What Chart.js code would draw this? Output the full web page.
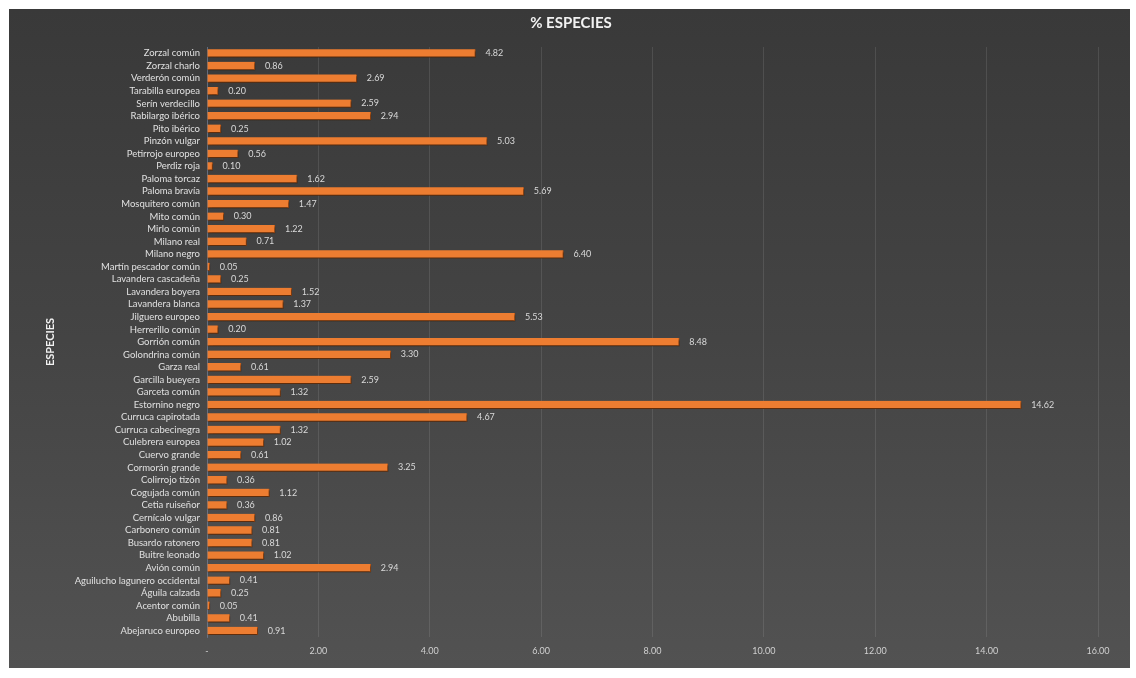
<!DOCTYPE html>
<html>
<head>
<meta charset="utf-8">
<script src="https://cdn.jsdelivr.net/npm/chart.js@4.4.1/dist/chart.umd.min.js"></script>
<style>
  html, body { margin: 0; padding: 0; background: #ffffff; }
  .chart-box {
    position: absolute;
    left: 9px; top: 9px;
    width: 1121px; height: 659px;
    background: linear-gradient(180deg, #393939 0%, #444444 50%, #525252 100%);
  }
</style>
</head>
<body>
<div class="chart-box"><canvas id="speciesChart"></canvas></div>
<script>
const species = [
  "Zorzal común", "Zorzal charlo", "Verderón común", "Tarabilla europea", "Serín verdecillo",
  "Rabilargo ibérico", "Pito ibérico", "Pinzón vulgar", "Petirrojo europeo", "Perdiz roja",
  "Paloma torcaz", "Paloma bravía", "Mosquitero común", "Mito común", "Mirlo común",
  "Milano real", "Milano negro", "Martín pescador común", "Lavandera cascadeña", "Lavandera boyera",
  "Lavandera blanca", "Jilguero europeo", "Herrerillo común", "Gorrión común", "Golondrina común",
  "Garza real", "Garcilla bueyera", "Garceta común", "Estornino negro", "Curruca capirotada",
  "Curruca cabecinegra", "Culebrera europea", "Cuervo grande", "Cormorán grande", "Colirrojo tizón",
  "Cogujada común", "Cetia ruiseñor", "Cernícalo vulgar", "Carbonero común", "Busardo ratonero",
  "Buitre leonado", "Avión común", "Aguilucho lagunero occidental", "Águila calzada", "Acentor común",
  "Abubilla", "Abejaruco europeo"
];

const percentages = [
  4.82, 0.86, 2.69, 0.20, 2.59,
  2.94, 0.25, 5.03, 0.56, 0.10,
  1.62, 5.69, 1.47, 0.30, 1.22,
  0.71, 6.40, 0.05, 0.25, 1.52,
  1.37, 5.53, 0.20, 8.48, 3.30,
  0.61, 2.59, 1.32, 14.62, 4.67,
  1.32, 1.02, 0.61, 3.25, 0.36,
  1.12, 0.36, 0.86, 0.81, 0.81,
  1.02, 2.94, 0.41, 0.25, 0.05,
  0.41, 0.91
];

const xTicks = [0, 2, 4, 6, 8, 10, 12, 14, 16];

const FONT = "Lato, 'Open Sans', sans-serif";

// soft shadow under the bars, like the spreadsheet style
const barShadow = {
  id: "barShadow",
  beforeDatasetsDraw(chart) {
    const ctx = chart.ctx;
    ctx.save();
    ctx.shadowColor = "rgba(0,0,0,0.55)";
    ctx.shadowBlur = 2;
    ctx.shadowOffsetX = 1;
    ctx.shadowOffsetY = 2;
  },
  afterDatasetsDraw(chart) {
    chart.ctx.restore();
  }
};

// value labels at the end of each bar
const valueLabels = {
  id: "valueLabels",
  afterDatasetsDraw(chart) {
    const ctx = chart.ctx;
    const meta = chart.getDatasetMeta(0);
    ctx.save();
    ctx.font = "9px " + FONT;
    ctx.fillStyle = "#d9d9d9";
    ctx.textAlign = "left";
    ctx.textBaseline = "middle";
    meta.data.forEach((bar, i) => {
      ctx.fillText(percentages[i].toFixed(2), bar.x + 10, bar.y);
    });
    ctx.restore();
  }
};

new Chart(document.getElementById("speciesChart"), {
  type: "bar",
  data: {
    labels: species,
    datasets: [{
      data: percentages,
      backgroundColor: "#ed7d31",
      borderColor: "#c25b17",
      borderWidth: { top: 0, bottom: 1, left: 0, right: 1 },
      barThickness: 8
    }]
  },
  plugins: [barShadow, valueLabels],
  options: {
    indexAxis: "y",
    responsive: true,
    maintainAspectRatio: false,
    animation: false,
    layout: {
      padding: { left: 35, right: 32, top: 0, bottom: 7 }
    },
    plugins: {
      legend: { display: false },
      tooltip: { enabled: false },
      title: {
        display: true,
        text: "% ESPECIES",
        color: "#f2f2f2",
        font: { size: 15, weight: "bold", family: FONT },
        padding: { top: 5, bottom: 15 }
      }
    },
    scales: {
      x: {
        min: 0,
        max: 16,
        afterBuildTicks(scale) {
          scale.ticks = xTicks.map(v => ({ value: v }));
        },
        afterFit(scale) { scale.height = 24; },
        grid: {
          color: "rgba(255,255,255,0.10)",
          drawTicks: false
        },
        border: { display: false },
        ticks: {
          color: "#d0d0d0",
          font: { size: 9, family: FONT },
          padding: 9,
          callback: v => v === 0 ? "-" : Number(v).toFixed(2)
        }
      },
      y: {
        afterFit(scale) { scale.width = 163; },
        grid: { display: false, drawTicks: false },
        border: { display: true, color: "rgba(110,130,160,0.6)", width: 1 },
        title: {
          display: true,
          text: "ESPECIES",
          color: "#f2f2f2",
          font: { size: 11, weight: "bold", family: FONT },
          padding: 0
        },
        ticks: {
          autoSkip: false,
          color: "#e0e0e0",
          font: { size: 9.5, family: FONT },
          padding: 7
        }
      }
    }
  }
});
</script>
</body>
</html>
